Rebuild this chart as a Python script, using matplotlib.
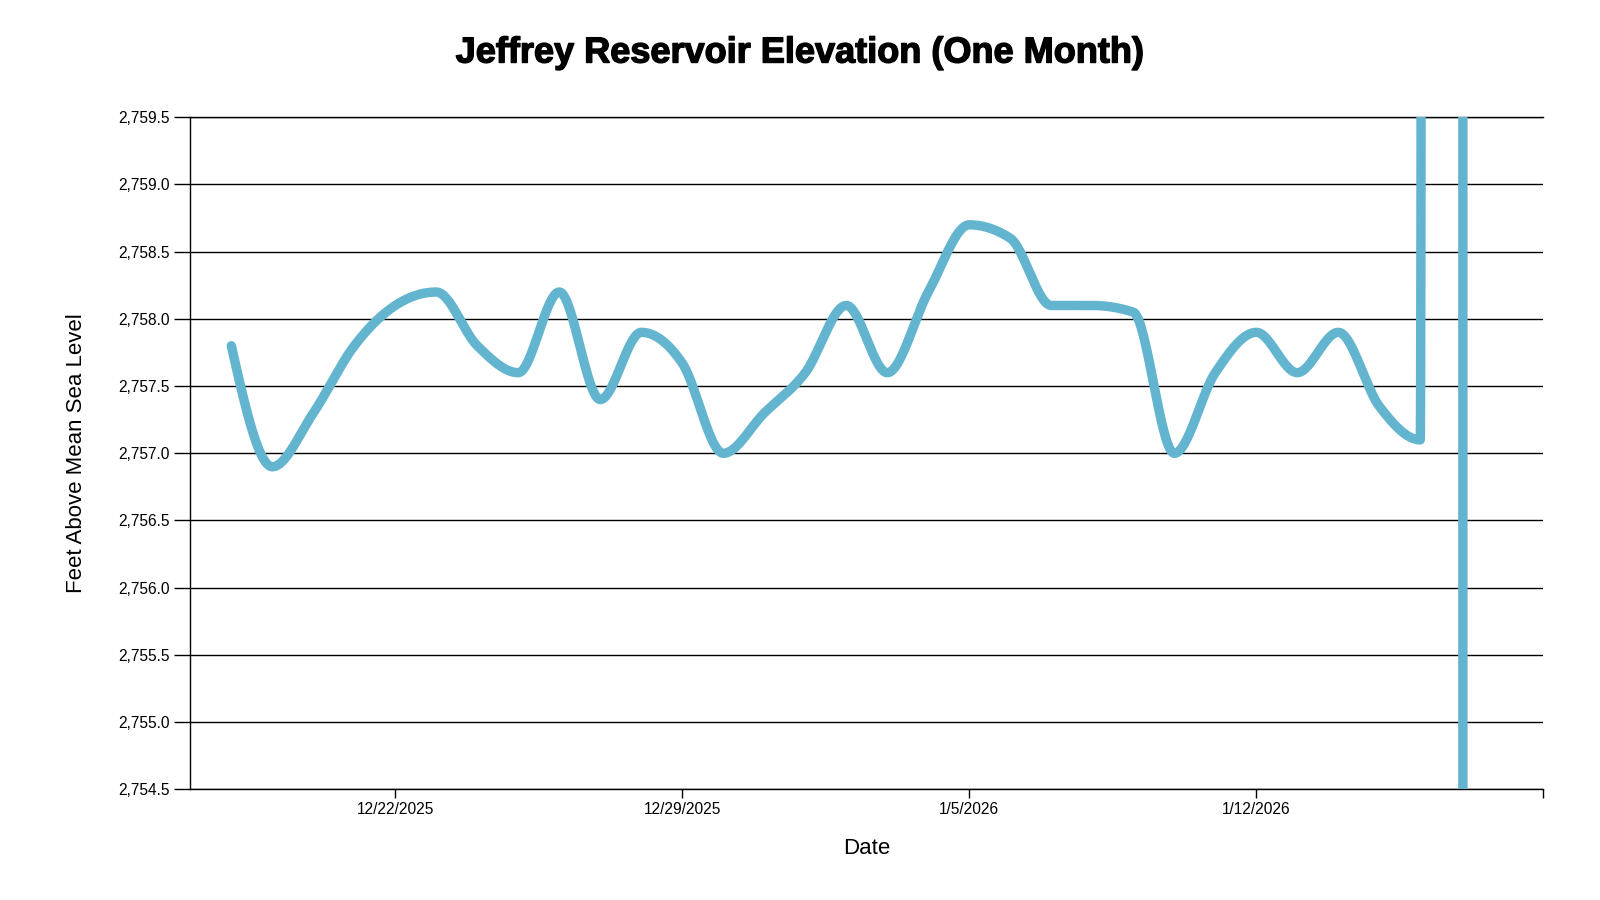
import numpy as np
import pandas as pd
import matplotlib
matplotlib.use("Agg")
import matplotlib.pyplot as plt
import matplotlib.dates as mdates
import matplotlib.patheffects as pe
from matplotlib.ticker import FuncFormatter, MultipleLocator

plt.rcParams['font.family'] = ['Liberation Sans', 'DejaVu Sans']

# Daily readings (feet above mean sea level)
dates = pd.date_range("2025-12-18", "2026-01-18", freq="D")
elevation = [
    2757.8, 2756.9, 2757.3, 2757.8, 2758.1, 2758.2, 2757.8, 2757.6,   # 12/18 - 12/25
    2758.2, 2757.4, 2757.9, 2757.67, 2757.0, 2757.3, 2757.6, 2758.1,  # 12/26 - 1/2
    2757.6, 2758.2, 2758.7, 2758.6, 2758.1, 2758.1, 2758.05, 2757.0,  # 1/3 - 1/10
    2757.6, 2757.9, 2757.6, 2757.9, 2757.35, 2757.1,                  # 1/11 - 1/16
    5000.0, -999999.0,                                                # 1/17 - 1/18 bad sensor values (off chart)
]

# Axis settings
x_start, x_end = "2025-12-17", "2026-01-19"
x_ticks = ["2025-12-22", "2025-12-29", "2026-01-05", "2026-01-12"]
x_tick_labels = ["12/22/2025", "12/29/2025", "1/5/2026", "1/12/2026"]
y_min, y_max, y_step = 2754.5, 2759.5, 0.5

title = "Jeffrey Reservoir Elevation (One Month)"
x_label = "Date"
y_label = "Feet Above Mean Sea Level"
line_color = "#63b5cf"


# Monotone cubic curve through the points (same idea as d3.curveMonotoneX)
def monotone_curve(x, y, n=400):
    x = np.asarray(x, float)
    y = np.asarray(y, float)
    h = np.diff(x)
    s = np.diff(y) / h
    m = np.zeros_like(y)
    for i in range(1, len(y) - 1):
        p = (s[i - 1] * h[i] + s[i] * h[i - 1]) / (h[i - 1] + h[i])
        m[i] = (np.sign(s[i - 1]) + np.sign(s[i])) * min(abs(s[i - 1]), abs(s[i]), 0.5 * abs(p))
    m[0] = (3 * s[0] - m[1]) / 2
    m[-1] = (3 * s[-1] - m[-2]) / 2
    t = np.linspace(0, 1, n)
    h00 = 2 * t**3 - 3 * t**2 + 1
    h10 = t**3 - 2 * t**2 + t
    h01 = -2 * t**3 + 3 * t**2
    h11 = t**3 - t**2
    xs, ys = [], []
    for i in range(len(h)):
        xs.append(x[i] + t * h[i])
        ys.append(h00 * y[i] + h10 * h[i] * m[i] + h01 * y[i + 1] + h11 * h[i] * m[i + 1])
    return np.concatenate(xs), np.concatenate(ys)


xnum = mdates.date2num(dates.to_pydatetime())
cx, cy = monotone_curve(xnum, elevation)

fig = plt.figure(figsize=(16, 9), dpi=100)
ax = fig.add_axes([190.3 / 1600, 1 - 789.3 / 900, (1543.3 - 190.3) / 1600, (789.3 - 117.3) / 900])

ax.plot(cx, cy, color=line_color, lw=6.8, solid_capstyle='round', solid_joinstyle='round', zorder=3)

ax.set_xlim(mdates.date2num(pd.Timestamp(x_start)), mdates.date2num(pd.Timestamp(x_end)))
ax.set_ylim(y_min, y_max)

# x axis
ax.set_xticks(mdates.date2num(pd.to_datetime(x_ticks).to_pydatetime()))
ax.set_xticklabels(x_tick_labels)
ax.set_xticks([mdates.date2num(pd.Timestamp(x_end))], minor=True)
ax.tick_params(axis='x', which='both', direction='out', length=6.5, width=1.0, pad=3,
               labelsize=11.2, colors='black')

# y axis
ax.yaxis.set_major_locator(MultipleLocator(y_step))
ax.yaxis.set_major_formatter(FuncFormatter(lambda v, pos: f"{v:,.1f}"))
ax.tick_params(axis='y', direction='out', length=11.5, width=1.0, pad=3.5, labelsize=11.2, colors='black')
ax.yaxis.grid(True, color='black', lw=1.0)
ax.set_axisbelow(True)

for side in ['left', 'bottom', 'top']:
    ax.spines[side].set_color('black')
    ax.spines[side].set_linewidth(1.0)
ax.spines['right'].set_visible(False)

ax.set_xlabel(x_label, fontsize=16)
ax.xaxis.set_label_coords(0.5, (789.3 - 848) / 672)
ax.xaxis.label.set_verticalalignment('center')
ax.set_ylabel(y_label, fontsize=16)
ax.yaxis.set_label_coords((76.5 - 190.3) / 1353, 0.5)
ax.yaxis.label.set_verticalalignment('center')

fig.text(0.5, 1 - 53 / 900, title, ha='center', va='center', fontsize=26, fontweight='bold',
         path_effects=[pe.withStroke(linewidth=1.0, foreground='black')])

fig.savefig("out.png", dpi=100, facecolor='white')
